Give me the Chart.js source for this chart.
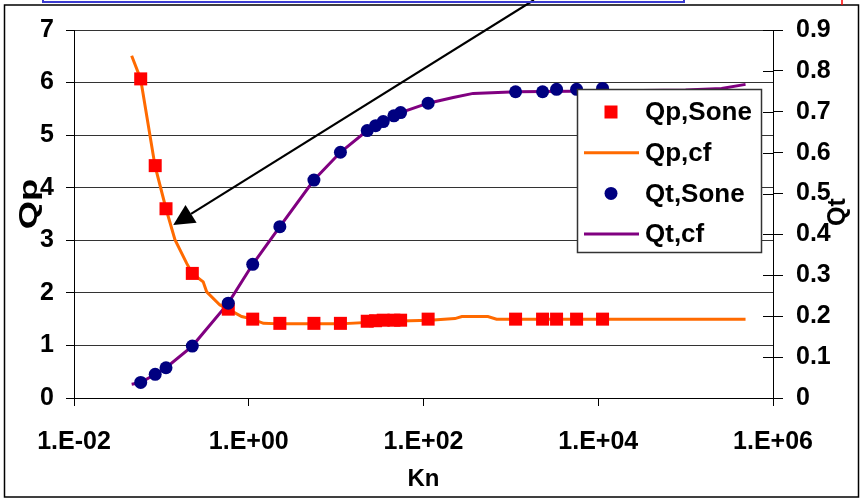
<!DOCTYPE html>
<html>
<head>
<meta charset="utf-8">
<script src="https://cdn.jsdelivr.net/npm/chart.js@4/dist/chart.umd.min.js"></script>
<style>
  html, body { margin: 0; padding: 0; background: #fff; }
  #wrap { position: relative; width: 863px; height: 499px; }
</style>
</head>
<body>
<div id="wrap"><canvas id="c" width="863" height="499"></canvas></div>
<script>
// Knudsen numbers of the Sone solutions (shared by Qp and Qt)
const knSone = [0.058, 0.085, 0.113, 0.226, 0.583, 1.11, 2.27, 5.57, 11.2, 22.7,
                28.3, 34.6, 45.8, 54.7, 113, 1132, 2306, 3334, 5649, 11200];
const qpSone = [6.07, 4.42, 3.60, 2.37, 1.69, 1.50, 1.42, 1.42, 1.42, 1.46,
                1.47, 1.48, 1.48, 1.48, 1.50, 1.50, 1.50, 1.50, 1.50, 1.50];
const qtSone = [0.038, 0.058, 0.074, 0.127, 0.232, 0.327, 0.419, 0.533, 0.601, 0.654,
                0.666, 0.676, 0.690, 0.698, 0.721, 0.749, 0.749, 0.755, 0.755, 0.757];

// Curve-fit results
const knQpCf = [0.0457, 0.0579, 0.0845, 0.113, 0.143, 0.195, 0.226, 0.301, 0.330, 0.468,
                0.582, 0.829, 1.11, 1.47, 2.28, 11.0, 41.3, 118, 229, 275, 546, 686, 485000];
const qpCf   = [6.51, 6.07, 4.42, 3.60, 3.01, 2.56, 2.37, 2.21, 2.02, 1.77,
                1.69, 1.55, 1.50, 1.42, 1.41, 1.41, 1.46, 1.48, 1.51, 1.55, 1.55, 1.50, 1.50];
const knQtCf = [0.0457, 0.058, 0.085, 0.113, 0.226, 0.583, 1.11, 2.27, 5.57, 11.2,
                22.7, 54.7, 113, 219, 370, 1162, 10000, 100000, 258000, 485000];
const qtCf   = [0.0335, 0.038, 0.058, 0.074, 0.127, 0.232, 0.327, 0.419, 0.533, 0.601,
                0.654, 0.698, 0.721, 0.735, 0.745, 0.749, 0.751, 0.753, 0.757, 0.767];

// Axis ticks
const xTickValues = [1e-2, 1e0, 1e2, 1e4, 1e6];
const xTickLabels = ['1.E-02', '1.E+00', '1.E+02', '1.E+04', '1.E+06'];
const seriesNames = ['Qp,Sone', 'Qp,cf', 'Qt,Sone', 'Qt,cf'];

// Callout arrow, in data units (Kn, Qp)
const arrowFrom = { kn: 1833, qp: 7.57 };
const arrowTo   = { kn: 0.1367, qp: 3.29 };

const FAMILY = '"Liberation Sans", Arial, Helvetica, sans-serif';
const RED = '#ff0000', ORANGE = '#ff6a00', NAVY = '#000080', PURPLE = '#800080';

const pts = (xs, ys) => xs.map((x, i) => ({ x: x, y: ys[i] }));

const decor = {
  id: 'decor',
  afterDatasetsDraw(chart) {
    const ctx = chart.ctx;
    // legend box
    const bx = 577, by = 89, bw = 184, bh = 163;
    ctx.save();
    ctx.fillStyle = '#fff';
    ctx.fillRect(bx, by, bw, bh);
    ctx.strokeStyle = '#333';
    ctx.lineWidth = 1.5;
    ctx.strokeRect(bx + 0.5, by + 0.5, bw, bh);
    ctx.font = 'bold 26px ' + FAMILY;
    ctx.textBaseline = 'middle';
    ctx.textAlign = 'left';
    seriesNames.forEach((name, i) => {
      const cy = 112 + i * 40.7;
      const cx = 611;
      if (i === 0) {
        ctx.fillStyle = RED;
        ctx.fillRect(cx - 6.5, cy - 6.5, 13, 13);
      } else if (i === 2) {
        ctx.fillStyle = NAVY;
        ctx.beginPath(); ctx.arc(cx, cy, 6.5, 0, Math.PI * 2); ctx.fill();
      } else {
        ctx.strokeStyle = i === 1 ? ORANGE : PURPLE;
        ctx.lineWidth = 3;
        ctx.beginPath(); ctx.moveTo(584, cy); ctx.lineTo(639, cy); ctx.stroke();
      }
      ctx.fillStyle = '#000';
      ctx.fillText(name, 645, cy + 1);
    });
    ctx.restore();
  },
  afterDraw(chart) {
    const ctx = chart.ctx;
    const xs = chart.scales.x, ys = chart.scales.y, y2 = chart.scales.y2;
    ctx.save();
    // inner half of the secondary axis tick marks
    ctx.strokeStyle = '#000';
    ctx.lineWidth = 1;
    y2.ticks.forEach(t => {
      const py = Math.round(y2.getPixelForValue(t.value)) + 0.5;
      ctx.beginPath(); ctx.moveTo(y2.left - 10, py); ctx.lineTo(y2.left, py); ctx.stroke();
    });
    // axis titles
    ctx.fillStyle = '#000';
    ctx.textAlign = 'center';
    ctx.textBaseline = 'middle';
    ctx.save();
    ctx.translate(30, 204);
    ctx.rotate(-Math.PI / 2);
    ctx.scale(1.4, 1);
    ctx.font = 'bold 26px ' + FAMILY;
    ctx.fillText('Qp', 0, 0);
    ctx.restore();
    ctx.save();
    ctx.translate(838, 212);
    ctx.rotate(-Math.PI / 2);
    ctx.font = 'bold 25px ' + FAMILY;
    ctx.fillText('Qt', 0, 0);
    ctx.restore();
    // callout arrow
    const x0 = xs.getPixelForValue(arrowFrom.kn), y0 = ys.getPixelForValue(arrowFrom.qp);
    const x1 = xs.getPixelForValue(arrowTo.kn),   y1 = ys.getPixelForValue(arrowTo.qp);
    const ang = Math.atan2(y1 - y0, x1 - x0);
    const hl = 21, hw = 10.5;
    const bxp = x1 - hl * Math.cos(ang), byp = y1 - hl * Math.sin(ang);
    ctx.strokeStyle = '#000';
    ctx.lineWidth = 2.2;
    ctx.beginPath(); ctx.moveTo(x0, y0); ctx.lineTo(bxp, byp); ctx.stroke();
    ctx.fillStyle = '#000';
    ctx.beginPath();
    ctx.moveTo(x1, y1);
    ctx.lineTo(bxp + hw * Math.sin(ang), byp - hw * Math.cos(ang));
    ctx.lineTo(bxp - hw * Math.sin(ang), byp + hw * Math.cos(ang));
    ctx.closePath();
    ctx.fill();
    // outer frame and the neighbouring boxes above it
    ctx.lineWidth = 1.5;
    ctx.strokeStyle = '#000';
    ctx.strokeRect(4.5, 5, 854, 492);
    ctx.strokeStyle = '#3b3bd0';
    ctx.lineWidth = 2;
    ctx.strokeRect(43, -10, 641, 12);
    ctx.strokeStyle = RED;
    ctx.lineWidth = 1.5;
    ctx.beginPath(); ctx.moveTo(842, 0); ctx.lineTo(842, 5); ctx.stroke();
    ctx.restore();
  }
};

const tickFont = { family: FAMILY, size: 25, weight: 'bold' };

new Chart(document.getElementById('c'), {
  type: 'scatter',
  data: {
    datasets: [
      { label: seriesNames[2], data: pts(knSone, qtSone), yAxisID: 'y2', order: 0,
        showLine: false, pointStyle: 'circle', pointRadius: 6.5, borderWidth: 0,
        backgroundColor: NAVY, borderColor: NAVY },
      { label: seriesNames[0], data: pts(knSone, qpSone), yAxisID: 'y', order: 1,
        showLine: false, pointStyle: 'rect', pointRadius: 9.2, borderWidth: 0,
        backgroundColor: RED, borderColor: RED },
      { label: seriesNames[3], data: pts(knQtCf, qtCf), yAxisID: 'y2', order: 2,
        showLine: true, pointRadius: 0, borderWidth: 3, tension: 0,
        borderColor: PURPLE, backgroundColor: PURPLE },
      { label: seriesNames[1], data: pts(knQpCf, qpCf), yAxisID: 'y', order: 3,
        showLine: true, pointRadius: 0, borderWidth: 3, tension: 0,
        borderColor: ORANGE, backgroundColor: ORANGE }
    ]
  },
  options: {
    responsive: false,
    animation: false,
    devicePixelRatio: 1,
    layout: { padding: { top: 30, left: 0, right: 0, bottom: 0 } },
    plugins: { legend: { display: false }, tooltip: { enabled: false } },
    scales: {
      x: {
        type: 'logarithmic', position: 'bottom', min: 1e-2, max: 1e6,
        afterBuildTicks: s => { s.ticks = xTickValues.map(v => ({ value: v })); },
        afterFit: s => { s.height = 101; },
        ticks: { callback: (v, i) => xTickLabels[i], font: tickFont, color: '#000',
                 padding: 21, maxRotation: 0, autoSkip: false },
        grid: { drawOnChartArea: false, tickLength: 8, color: '#000' },
        border: { color: '#000', width: 1 },
        title: { display: true, text: 'Kn', color: '#000',
                 font: { family: FAMILY, size: 24, weight: 'bold' }, padding: { top: 0, bottom: 5 } }
      },
      y: {
        position: 'left', min: 0, max: 7,
        afterFit: s => { s.width = 74; },
        ticks: { stepSize: 1, font: tickFont, color: '#000', padding: 12 },
        grid: { color: '#333', tickColor: '#000', tickLength: 8 },
        border: { color: '#000', width: 1 }
      },
      y2: {
        position: 'right', min: 0, max: 0.9,
        afterFit: s => { s.width = 90; },
        ticks: { stepSize: 0.1, font: tickFont, color: '#000', padding: 13,
                 callback: v => (Math.abs(v) < 1e-9 ? '0' : v.toFixed(1)) },
        grid: { drawOnChartArea: false, tickLength: 10, color: '#000' },
        border: { color: '#000', width: 1 }
      }
    }
  },
  plugins: [decor]
});
</script>
</body>
</html>
